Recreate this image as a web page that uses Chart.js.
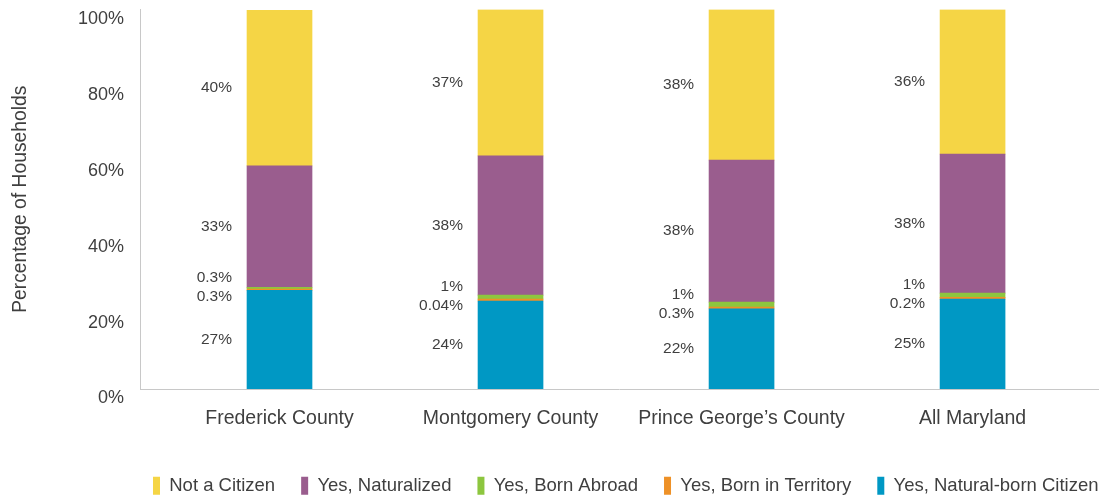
<!DOCTYPE html>
<html>
<head>
<meta charset="utf-8">
<script src="https://cdn.jsdelivr.net/npm/chart.js@4.4.1/dist/chart.umd.min.js"></script>
<style>
  html, body { margin: 0; padding: 0; background: #ffffff; }
  #wrap { width: 1106px; height: 499px; position: relative; }
</style>
</head>
<body>
<div id="wrap"><canvas id="c" width="1106" height="499"></canvas></div>
<script>
// ---- Data ----
const categories = ["Frederick County", "Montgomery County", "Prince George\u2019s County", "All Maryland"];

// bar heights (% of households), bottom to top of each stack
const naturalBorn   = [26.0, 23.2, 21.1, 23.7];
const bornTerritory = [0.34, 0.5, 0.5, 0.45];
const bornAbroad    = [0.45, 1.05, 1.3, 1.13];
const naturalized   = [32.0, 36.7, 37.4, 36.6];
const notCitizen    = [41.0, 38.5, 39.7, 38.1];

// value labels printed beside the bars
const naturalBornLabels   = ["27%", "24%", "22%", "25%"];
const bornTerritoryLabels = ["0.3%", "0.04%", "0.3%", "0.2%"];
const bornAbroadLabels    = ["0.3%", "1%", "1%", "1%"];
const naturalizedLabels   = ["33%", "38%", "38%", "38%"];
const notCitizenLabels    = ["40%", "37%", "38%", "36%"];

const yTicks = [0, 20, 40, 60, 80, 100];

// ---- Chart ----
const FONT = "'Liberation Sans', Arial, sans-serif";
const TEXT = "#3f3f3f";
const AXIS = "#c8c8c8";

const toXY = arr => arr.map((v, i) => ({ x: i, y: v }));

const series = [
  { label: "Yes, Natural-born Citizen", data: naturalBorn,   labels: naturalBornLabels,   color: "#0098C4", kind: "big" },
  { label: "Yes, Born in Territory",    data: bornTerritory, labels: bornTerritoryLabels, color: "#EE9127", kind: "lowSmall" },
  { label: "Yes, Born Abroad",          data: bornAbroad,    labels: bornAbroadLabels,    color: "#8DC63F", kind: "highSmall" },
  { label: "Yes, Naturalized",          data: naturalized,   labels: naturalizedLabels,   color: "#9A5D8E", kind: "big" },
  { label: "Not a Citizen",             data: notCitizen,    labels: notCitizenLabels,    color: "#F5D545", kind: "big" }
];

const valueLabels = {
  id: "valueLabels",
  afterDatasetsDraw(chart) {
    const ctx = chart.ctx;
    ctx.save();
    ctx.font = "15.5px " + FONT;
    ctx.fillStyle = TEXT;
    ctx.textAlign = "right";
    ctx.textBaseline = "middle";
    categories.forEach((cat, i) => {
      const low = chart.getDatasetMeta(1).data[i];
      const high = chart.getDatasetMeta(2).data[i];
      const smallMid = (low.base + high.y) / 2;
      series.forEach((s, d) => {
        const bar = chart.getDatasetMeta(d).data[i];
        const xRight = bar.x - bar.width / 2 - 15;
        let y;
        if (s.kind === "big") y = (bar.y + bar.base) / 2;
        else if (s.kind === "highSmall") y = smallMid - 11;
        else y = smallMid + 8;
        ctx.fillText(s.labels[i], xRight, y);
      });
    });
    ctx.restore();
  }
};

// place the legend row where the reference has it
const legendShift = {
  id: "legendShift",
  afterLayout(chart) {
    const lg = chart.legend;
    if (!lg) return;
    const w = lg.right - lg.left;
    lg.left = 127;
    lg.right = 127 + w;
  }
};

new Chart(document.getElementById("c"), {
  type: "bar",
  data: {
    datasets: series.map(s => ({
      label: s.label,
      data: toXY(s.data),
      backgroundColor: s.color,
      borderWidth: 0,
      barThickness: 65
    }))
  },
  options: {
    responsive: false,
    animation: false,
    layout: { padding: { top: 9.5, right: 8, bottom: -6, left: 0 } },
    plugins: {
      tooltip: { enabled: false },
      legend: {
        position: "bottom",
        reverse: true,
        align: "start",
        labels: {
          font: { family: FONT, size: 18.5 },
          color: TEXT,
          boxWidth: 7,
          boxHeight: 18,
          padding: 26
        }
      }
    },
    scales: {
      x: {
        type: "linear",
        stacked: true,
        offset: false,
        min: -0.6039,
        max: 3.543,
        grid: { display: false, drawTicks: false, offset: false },
        border: { color: AXIS, width: 1 },
        afterBuildTicks: sc => { sc.ticks = categories.map((c, i) => ({ value: i })); },
        afterFit: sc => { sc.height = 61.5; sc.paddingLeft = 0; sc.paddingRight = 0; },
        ticks: {
          callback: v => categories[v],
          font: { family: FONT, size: 19.5 },
          color: TEXT,
          padding: 18,
          maxRotation: 0,
          autoSkip: false
        }
      },
      y: {
        stacked: true,
        min: 0,
        max: 100,
        grid: { display: false, drawTicks: false },
        border: { color: AXIS, width: 1 },
        afterBuildTicks: sc => { sc.ticks = yTicks.map(v => ({ value: v })); },
        afterFit: sc => { sc.width = 140; sc.paddingTop = 0; sc.paddingBottom = 0; },
        ticks: {
          callback: v => v + "%",
          font: { family: FONT, size: 18 },
          color: TEXT,
          padding: 16,
          labelOffset: 9.5
        },
        title: {
          display: true,
          text: "Percentage of Households",
          font: { family: FONT, size: 19.3 },
          color: TEXT,
          padding: { top: 9, bottom: 0 }
        }
      }
    }
  },
  plugins: [valueLabels, legendShift]
});
</script>
</body>
</html>
